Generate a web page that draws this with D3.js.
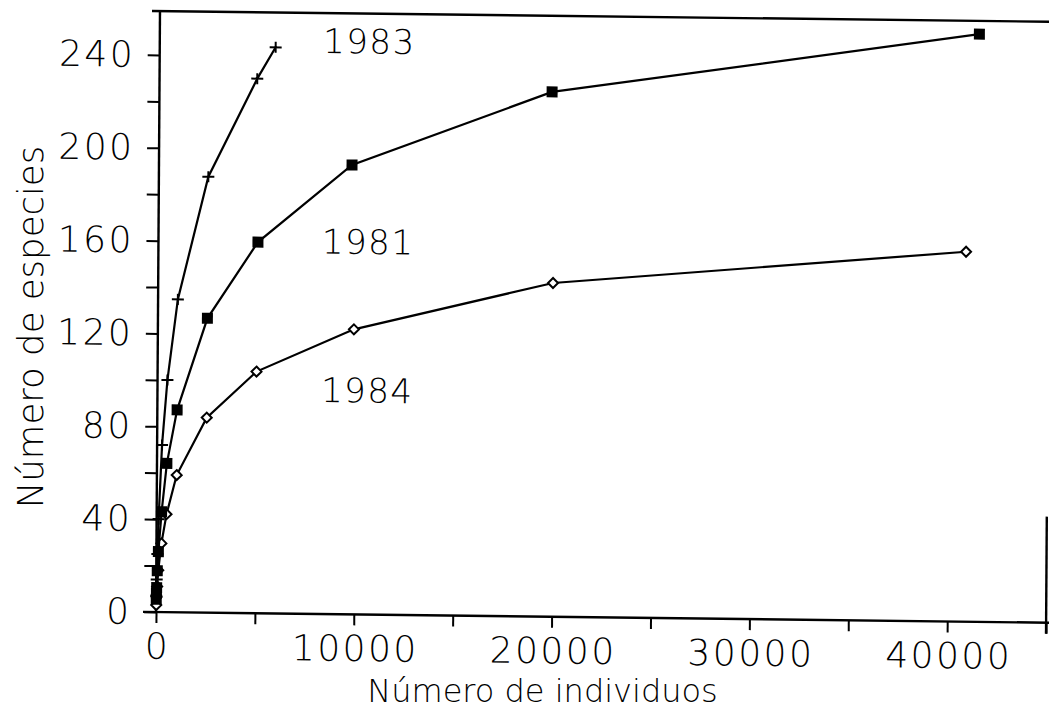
<!DOCTYPE html>
<html>
<head>
<meta charset="utf-8">
<script src="https://cdn.jsdelivr.net/npm/d3@7"></script>
<style>
  html, body { margin: 0; padding: 0; background: #fff; }
  svg { display: block; }
  text { font-family: "DejaVu Sans", "Liberation Sans", sans-serif; font-weight: 200; fill: #000; }
</style>
</head>
<body>
<svg id="chart" width="1049" height="711"></svg>
<script>
// ---------------- data ----------------
const seriesNames = ["1983", "1981", "1984"];

const x1983 = [10, 25, 50, 100, 250, 500, 1000, 2500, 4940, 5860];
const y1983 = [7, 14, 25, 40, 72, 100, 134.8, 187.8, 230.3, 243.9];

const x1981 = [10, 15, 25, 50, 100, 250, 500, 1000, 2500, 5030, 9760, 19850, 41430];
const y1981 = [5.5, 8, 10.5, 17.8, 26, 43.2, 64.1, 87.2, 126.8, 159.9, 193.6, 226.1, 253.2];

const x1984 = [10, 25, 50, 100, 250, 500, 1000, 2500, 5000, 9910, 19960, 40830];
const y1984 = [3, 6.5, 11, 18, 29.6, 42.2, 59.1, 84, 104.1, 122.8, 143.8, 159.4];

const xTicks = [0, 5000, 10000, 15000, 20000, 25000, 30000, 35000, 40000, 45000];
const xTickLabels = ["0", "", "10000", "", "20000", "", "30000", "", "40000", ""];
const yTicks = [0, 20, 40, 60, 80, 100, 120, 140, 160, 180, 200, 220, 240];
const yTickLabels = ["0", "", "40", "", "80", "", "120", "", "160", "", "200", "", "240"];

const xTitle = "Número de individuos";
const yTitle = "Número de especies";

// label anchors for the curve names (data coordinates)
const seriesLabelX = [8260, 8260, 8270];
const seriesLabelY = [241.7, 155.3, 91.3];

// ---------------- drawing ----------------
const svg = d3.select("#chart");

const xMax = 45000, yTop = 258.9;
const x = d3.scaleLinear().domain([0, xMax]).range([0, 890.1]);
const y = d3.scaleLinear().domain([0, yTop]).range([0, -600.9]);

// the scanned figure is slightly skewed: reproduce with an affine transform
const g = svg.append("g")
  .attr("transform", "matrix(1,0.012,-0.00664,1,156,612)");

// frame lines
const frame = g.append("g").attr("stroke", "#000").attr("stroke-width", 2.4).attr("fill", "none");
frame.append("line").attr("x1", 0).attr("x2", 0).attr("y1", 0).attr("y2", y(yTop));
frame.append("line").attr("x1", -8).attr("x2", 900).attr("y1", y(yTop)).attr("y2", y(yTop));
frame.append("line").attr("x1", -13).attr("x2", 900).attr("y1", 0).attr("y2", 0);
frame.append("line").attr("x1", x(xMax)).attr("x2", x(xMax)).attr("y1", 11).attr("y2", y(45.7));

// axes
const xAxis = d3.axisBottom(x).tickValues(xTicks).tickSize(11).tickPadding(10)
  .tickFormat((d, i) => xTickLabels[i]);
const gx = g.append("g").call(xAxis);
gx.select(".domain").remove();
gx.selectAll(".tick line").attr("stroke", "#000").attr("stroke-width", 2);
gx.selectAll(".tick text").attr("font-size", 36).attr("font-family", null)
  .attr("letter-spacing", 2.5).attr("dx", 1.25);

const yAxis = d3.axisLeft(y).tickValues(yTicks).tickSize(12).tickPadding(15)
  .tickFormat((d, i) => yTickLabels[i]);
const gy = g.append("g").call(yAxis);
gy.select(".domain").remove();
gy.selectAll(".tick line").attr("stroke", "#000").attr("stroke-width", 2);
gy.selectAll(".tick text").attr("font-size", 36).attr("font-family", null)
  .attr("letter-spacing", 2.5).attr("dx", 2.5);

// series (drawn so that the squares end up on top near the origin)
const series = [
  { name: seriesNames[2], xs: x1984, ys: y1984, marker: "diamond" },
  { name: seriesNames[0], xs: x1983, ys: y1983, marker: "plus" },
  { name: seriesNames[1], xs: x1981, ys: y1981, marker: "square" }
];

const line = d3.line().x(d => x(d[0])).y(d => y(d[1]));

series.forEach(s => {
  const pts = s.xs.map((v, i) => [v, s.ys[i]]);
  g.append("path").datum(pts).attr("d", line)
    .attr("fill", "none").attr("stroke", "#000").attr("stroke-width", 2.2);
  const m = g.append("g");
  if (s.marker === "square") {
    m.selectAll("rect").data(pts).join("rect")
      .attr("x", d => x(d[0]) - 5.5).attr("y", d => y(d[1]) - 5.5)
      .attr("width", 11).attr("height", 11).attr("fill", "#000");
  } else if (s.marker === "diamond") {
    m.selectAll("path").data(pts).join("path")
      .attr("d", d => {
        const cx = x(d[0]), cy = y(d[1]), r = 5;
        return `M${cx},${cy - r}L${cx + r},${cy}L${cx},${cy + r}L${cx - r},${cy}Z`;
      })
      .attr("fill", "#fff").attr("stroke", "#000").attr("stroke-width", 2);
  } else {
    m.selectAll("path").data(pts).join("path")
      .attr("d", d => {
        const cx = x(d[0]), cy = y(d[1]);
        return `M${cx - 6},${cy}H${cx + 6}M${cx},${cy - 5.5}V${cy + 5.5}`;
      })
      .attr("fill", "none").attr("stroke", "#000").attr("stroke-width", 2);
  }
});

// series labels
g.selectAll("text.series-label").data(seriesNames).join("text")
  .attr("class", "series-label")
  .attr("x", (d, i) => x(seriesLabelX[i]))
  .attr("y", (d, i) => y(seriesLabelY[i]))
  .attr("font-size", 34)
  .attr("letter-spacing", 1.5)
  .text(d => d);

// axis titles
svg.append("text")
  .attr("x", 542.5).attr("y", 701.5)
  .attr("text-anchor", "middle").attr("font-size", 32)
  .text(xTitle);

svg.append("text")
  .attr("transform", "translate(42.5,327) rotate(-90)")
  .attr("text-anchor", "middle").attr("font-size", 35.5)
  .text(yTitle);
</script>
</body>
</html>
